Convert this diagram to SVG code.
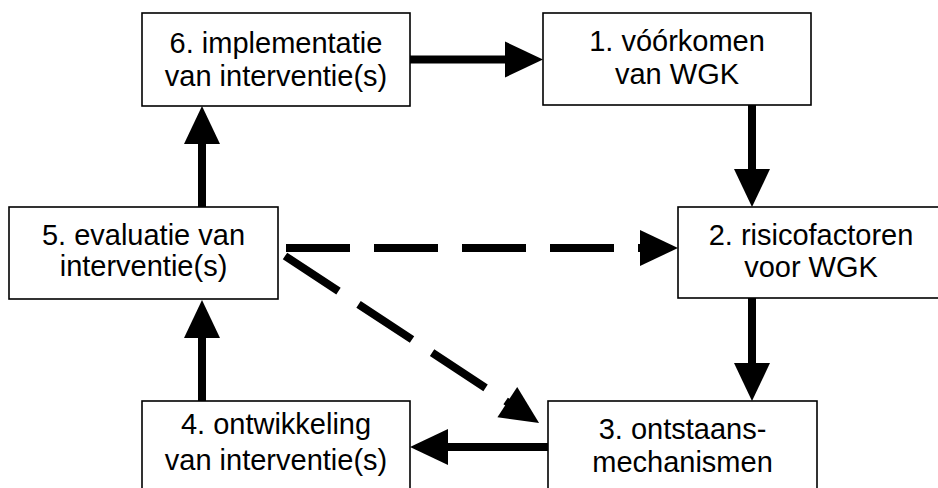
<svg xmlns="http://www.w3.org/2000/svg" width="938" height="488" viewBox="0 0 938 488">
<style>
.box{fill:#fff;stroke:#000;stroke-width:1.6}
.t{font-family:"Liberation Sans",Arial,sans-serif;font-size:29px;fill:#000;text-anchor:middle}
.c{stroke:#000;stroke-width:8;fill:none;marker-end:url(#ah)}
.d{stroke-dasharray:64 24}
</style>
<defs>
<marker id="ah" markerUnits="userSpaceOnUse" markerWidth="40" markerHeight="38" refX="8" refY="18" orient="auto" overflow="visible">
<path d="M0,0 L38,18 L0,36 Z" fill="#000"/>
</marker>
</defs>
<rect width="938" height="488" fill="#fff"/>
<g id="connectors">
<line class="c" x1="410" y1="59.5" x2="513" y2="59.5"/>
<line class="c" x1="752" y1="105" x2="752" y2="177"/>
<line class="c" x1="752" y1="298" x2="752" y2="371"/>
<line class="c" x1="548" y1="447" x2="440" y2="447"/>
<line class="c" x1="202" y1="401" x2="202" y2="330"/>
<line class="c" x1="202" y1="207" x2="202" y2="136"/>
<line class="c d" x1="286" y1="248" x2="648" y2="248"/>
<line class="c d" x1="285" y1="256" x2="514" y2="406.5"/>
</g>
<g id="n6"><rect class="box" x="142" y="13" width="268" height="93"/>
<text class="t" x="276" y="53">6. implementatie</text><text class="t" x="276" y="86">van interventie(s)</text></g>
<g id="n1"><rect class="box" x="543" y="13" width="268" height="92"/>
<text class="t" x="677" y="51">1. vóórkomen</text><text class="t" x="677" y="84">van WGK</text></g>
<g id="n2"><rect class="box" x="678" y="207" width="270" height="91"/>
<text class="t" x="811" y="245">2. risicofactoren</text><text class="t" x="811" y="277">voor WGK</text></g>
<g id="n5"><rect class="box" x="9" y="207" width="269" height="92"/>
<text class="t" x="143.5" y="245">5. evaluatie van</text><text class="t" x="143.5" y="276">interventie(s)</text></g>
<g id="n4"><rect class="box" x="142" y="401" width="268" height="92"/>
<text class="t" x="276" y="434">4. ontwikkeling</text><text class="t" x="276" y="470">van interventie(s)</text></g>
<g id="n3"><rect class="box" x="548" y="401" width="269" height="92"/>
<text class="t" x="682.5" y="439">3. ontstaans-</text><text class="t" x="682.5" y="472">mechanismen</text></g>
</svg>
